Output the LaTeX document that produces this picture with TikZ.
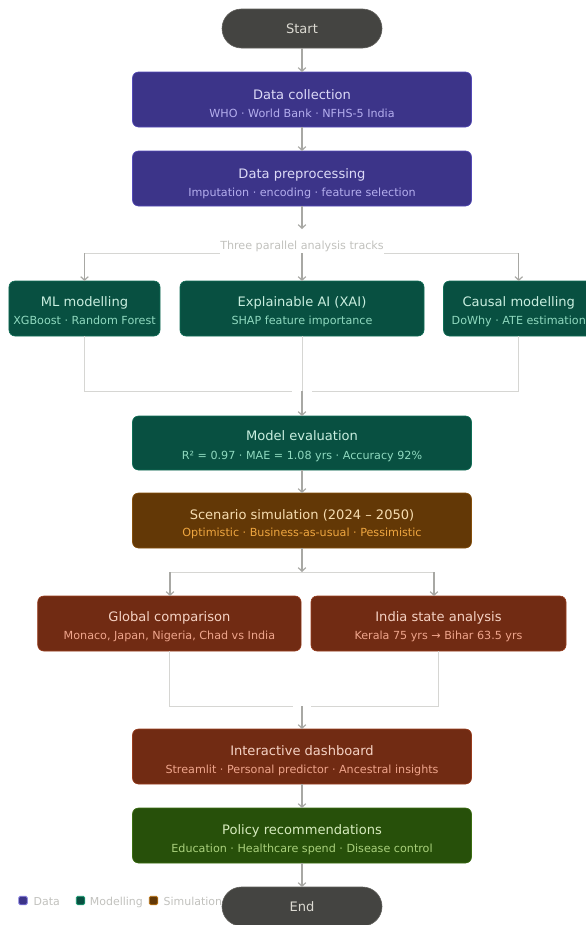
\documentclass[tikz,border=0pt]{standalone}
\usepackage{fontspec}
\setmainfont{DejaVu Sans}
\usetikzlibrary{arrows.meta}
\definecolor{pu8}{HTML}{3C3489}\definecolor{pu6}{HTML}{534AB7}\definecolor{pu4}{HTML}{7F77DD}
\definecolor{pu1}{HTML}{DCDAF7}\definecolor{pu2}{HTML}{B4AEEE}
\definecolor{te8}{HTML}{085041}\definecolor{te6}{HTML}{0F6E56}\definecolor{te4}{HTML}{1D9E75}
\definecolor{te1}{HTML}{C8EEDF}\definecolor{te2}{HTML}{8FD9BF}
\definecolor{am8}{HTML}{633806}\definecolor{am6}{HTML}{854F0B}\definecolor{am4}{HTML}{BA7517}
\definecolor{am1}{HTML}{F7DDB0}\definecolor{am2}{HTML}{EFA640}
\definecolor{co8}{HTML}{712B13}\definecolor{co6}{HTML}{993C1D}
\definecolor{co1}{HTML}{F5D2C4}\definecolor{co2}{HTML}{EFA58C}
\definecolor{gr8}{HTML}{27500A}\definecolor{gr6}{HTML}{3B6D11}
\definecolor{gr1}{HTML}{D6EBBD}\definecolor{gr2}{HTML}{A9D07C}
\definecolor{gy8}{HTML}{444441}\definecolor{gy6}{HTML}{5F5E5A}
\definecolor{gy1}{HTML}{DCDAD2}\definecolor{gy2}{HTML}{C2C2BE}
\definecolor{arrowc}{HTML}{A8A8A4}\definecolor{guidec}{HTML}{D6D6D3}
\begin{document}
\begin{tikzpicture}[x=1bp,y=-1bp,
  box/.style={draw, rounded corners=6bp, line width=0.6bp, inner sep=0pt, outer sep=0pt},
  pill/.style={draw=gy6, fill=gy8, rounded corners=19.5bp, line width=0.6bp, inner sep=0pt, outer sep=0pt, minimum width=160bp, minimum height=39bp},
  databox/.style={box, fill=pu8, draw=pu6},
  modbox/.style={box, fill=te8, draw=te6},
  simbox/.style={box, fill=am8, draw=am6},
  outbox/.style={box, fill=co8, draw=co6},
  polbox/.style={box, fill=gr8, draw=gr6},
  ttl/.style={font=\fontsize{13.1}{15}\selectfont, text height=9.5bp, text depth=0pt, inner sep=0pt},
  subt/.style={font=\fontsize{11.2}{13}\selectfont, text height=8.1bp, text depth=0pt, inner sep=0pt},
  legt/.style={font=\fontsize{11}{13}\selectfont, text height=8bp, text depth=0pt, inner sep=0pt, anchor=west, text=gy2},
  legsq/.style={rounded corners=1.5bp, line width=0.8bp, minimum width=8.5bp, minimum height=8.5bp, inner sep=0pt},
  arr/.style={draw=arrowc, line width=1.2bp, -{Straight Barb[length=3.5bp,width=7.5bp]}},
  guide/.style={draw=guidec, line width=1bp}]
\useasboundingbox (0,0) rectangle (586,925);
\fill[white] (0,0) rectangle (586,925);

% Start
\node[pill] (start) at (302,28.5) {};
\node[ttl, text=gy1] (startt) at (302,28.7) {Start};

% Data
\node[databox, minimum width=339bp, minimum height=55bp] (dc) at (302,99.5) {};
\node[ttl, text=pu1] (dct) at (302,95) {Data collection};
\node[subt, text=pu2] (dcs) at (302,113.7) {WHO · World Bank · NFHS-5 India};

\node[databox, minimum width=339bp, minimum height=55bp] (dp) at (302,178.5) {};
\node[ttl, text=pu1] (dpt) at (302,173.7) {Data preprocessing};
\node[subt, text=pu2] (dps) at (302,192.7) {Imputation · encoding · feature selection};

% three tracks
\node[subt, text=gy2] (lab) at (302,245.5) {Three parallel analysis tracks};
\coordinate (dpend) at (302,229);
\coordinate (bl) at (84.5,253);
\coordinate (bc) at (302,253);
\coordinate (br) at (518.75,253);

\node[modbox, minimum width=151bp, minimum height=55bp] (ml) at (84.5,308.5) {};
\node[ttl, text=te1] (mlt) at (84.5,301.7) {ML modelling};
\node[subt, text=te2] (mls) at (84.5,320.7) {XGBoost · Random Forest};

\node[modbox, minimum width=244bp, minimum height=55bp] (xai) at (302,308.5) {};
\node[ttl, text=te1] (xait) at (302,301.7) {Explainable AI (XAI)};
\node[subt, text=te2] (xais) at (302,320.7) {SHAP feature importance};

\node[modbox, minimum width=150.5bp, minimum height=55bp] (cau) at (518.75,308.5) {};
\node[ttl, text=te1] (caut) at (518.75,301.7) {Causal modelling};
\node[subt, text=te2] (caus) at (518.75,320.7) {DoWhy · ATE estimation};

\draw[arr] (dp.south) -- (dpend);
\draw[guide] (bl) -- (bl -| lab.west);
\draw[guide] (br) -- (br -| lab.east);
\draw[arr] (bl) -- (ml.north);
\draw[arr] (bc) -- (xai.north);
\draw[arr] (br) -- (cau.north);

% merge 1
\coordinate (m1l) at (292,391);
\coordinate (m1c) at (302,391);
\coordinate (m1r) at (312,391);
\draw[guide] (ml.south) |- (m1l);
\draw[guide] (cau.south) |- (m1r);
\draw[guide] (xai.south) -- (m1c);

\node[modbox, minimum width=339bp, minimum height=54bp] (me) at (302,443) {};
\node[ttl, text=te1] (met) at (302,436) {Model evaluation};
\node[subt, text=te2] (mes) at (302,455) {R² = 0.97 · MAE = 1.08 yrs · Accuracy 92\%};
\draw[arr] (m1c) -- (me.north);

% simulation
\node[simbox, minimum width=339bp, minimum height=55bp] (ss) at (302,520.5) {};
\node[ttl, text=am1] (sst) at (302,514.3) {Scenario simulation (2024 – 2050)};
\node[subt, text=am2] (sss) at (302,532.3) {Optimistic · Business-as-usual · Pessimistic};
\draw[arr] (me.south) -- (ss.north);

% branch 2
\coordinate (b2c) at (302,572);
\coordinate (b2l) at (170,572);
\coordinate (b2r) at (434,572);

\node[outbox, minimum width=263.3bp, minimum height=55bp] (gc) at (169.4,623.5) {};
\node[ttl, text=co1] (gct) at (169.4,616.7) {Global comparison};
\node[subt, text=co2] (gcs) at (169.4,635) {Monaco, Japan, Nigeria, Chad vs India};

\node[outbox, minimum width=255bp, minimum height=55bp] (isa) at (438.5,623.5) {};
\node[ttl, text=co1] (isat) at (438.5,616.7) {India state analysis};
\node[subt, text=co2] (isas) at (438.5,635) {Kerala 75 yrs → Bihar 63.5 yrs};

\draw[guide] (b2l) -- (b2r);
\draw[arr] (ss.south) -- (b2c);
\draw[arr] (b2l) -- (b2l |- gc.north);
\draw[arr] (b2r) -- (b2r |- isa.north);

% merge 2
\coordinate (m2l) at (292.6,706);
\coordinate (m2c) at (302,706);
\coordinate (m2r) at (311,706);
\draw[guide] (gc.south) |- (m2l);
\draw[guide] (isa.south) |- (m2r);

\node[outbox, minimum width=339bp, minimum height=55bp] (id) at (302,756.5) {};
\node[ttl, text=co1] (idt) at (302,750.7) {Interactive dashboard};
\node[subt, text=co2] (ids) at (302,769) {Streamlit · Personal predictor · Ancestral insights};
\draw[arr] (m2c) -- (id.north);

\node[polbox, minimum width=339bp, minimum height=55bp] (pr) at (302,835.5) {};
\node[ttl, text=gr1] (prt) at (302,829.3) {Policy recommendations};
\node[subt, text=gr2] (prs) at (302,848) {Education · Healthcare spend · Disease control};
\draw[arr] (start.south) -- (dc.north);
\draw[arr] (dc.south) -- (dp.north);
\draw[arr] (id.south) -- (pr.north);

% legend
\node[legsq, fill=pu8, draw=pu4] (lq1) at (23,900.5) {};
\node[legt] (lt1) at (33.5,901) {Data};
\node[legsq, fill=te8, draw=te4] (lq2) at (80.5,900.5) {};
\node[legt] (lt2) at (89.7,901) {Modelling};
\node[legsq, fill=am8, draw=am4] (lq3) at (153.5,900.5) {};
\node[legt] (lt3) at (163.5,901) {Simulation};

% End
\node[pill] (end) at (302,906.5) {};
\node[ttl, text=gy1] (endt) at (302,907) {End};
\draw[arr] (pr.south) -- (end.north);
\end{tikzpicture}
\end{document}
